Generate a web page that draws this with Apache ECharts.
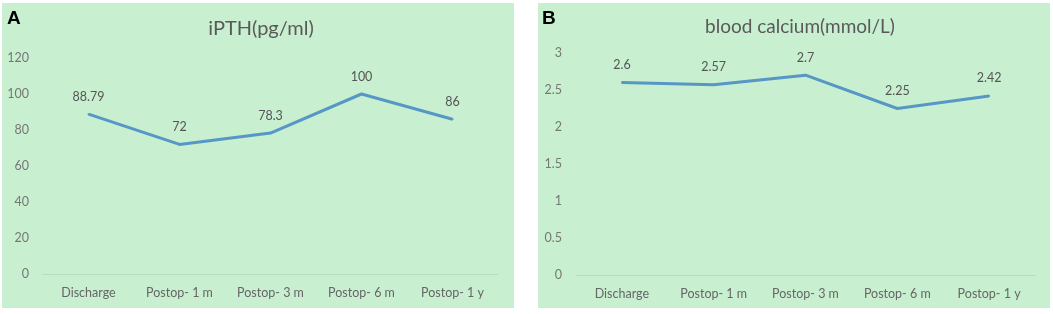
<!DOCTYPE html>
<html>
<head>
<meta charset="utf-8">
<script src="https://cdn.jsdelivr.net/npm/echarts@6/dist/echarts.min.js"></script>
<style>
  html, body { margin: 0; padding: 0; background: #fff; }
  #chart { width: 1053px; height: 314px; }
</style>
</head>
<body>
<div id="chart"></div>
<script>
const categories = ['Discharge', 'Postop- 1 m', 'Postop- 3 m', 'Postop- 6 m', 'Postop- 1 y'];
const pthValues = [88.79, 72, 78.3, 100, 86];
const calciumValues = [2.6, 2.57, 2.7, 2.25, 2.42];
const panelTitles = ['iPTH(pg/ml)', 'blood calcium(mmol/L)'];
const panelLetters = ['A', 'B'];

const chart = echarts.init(document.getElementById('chart'));
const font = 'Lato, "Open Sans", sans-serif';
const panelColor = '#c8efcf';
const lineColor = '#5797c6';

function xAxisFor(gridIndex) {
  return {
    type: 'category',
    gridIndex: gridIndex,
    data: categories,
    boundaryGap: true,
    axisTick: { show: false },
    axisLine: { lineStyle: { color: '#b9dcc0', width: 1 } },
    axisLabel: { color: '#666', fontSize: 12.5, fontFamily: font, margin: 12 }
  };
}

function yAxisFor(gridIndex, max, interval) {
  return {
    type: 'value',
    gridIndex: gridIndex,
    min: 0,
    max: max,
    interval: interval,
    axisLine: { show: false },
    axisTick: { show: false },
    splitLine: { show: false },
    axisLabel: { color: '#777', fontSize: 12.5, fontFamily: font, margin: 14 }
  };
}

function lineSeries(index, data) {
  return {
    type: 'line',
    xAxisIndex: index,
    yAxisIndex: index,
    data: data,
    symbol: 'circle',
    symbolSize: 2,
    showSymbol: true,
    itemStyle: { color: lineColor },
    lineStyle: { color: lineColor, width: 3 },
    label: {
      show: true,
      position: 'top',
      distance: 10,
      color: '#555',
      fontSize: 12.5,
      fontFamily: font
    }
  };
}

chart.setOption({
  backgroundColor: '#fff',
  animation: false,
  graphic: [
    { type: 'rect', left: 2, top: 3, shape: { width: 512, height: 305 }, style: { fill: panelColor }, z: -10 },
    { type: 'rect', left: 538, top: 3, shape: { width: 512, height: 305 }, style: { fill: panelColor }, z: -10 },
    { type: 'text', left: 7, top: 9, style: { text: panelLetters[0], font: 'bold 19px "Liberation Sans", Arial, sans-serif', fill: '#000' } },
    { type: 'text', left: 542, top: 9, style: { text: panelLetters[1], font: 'bold 19px "Liberation Sans", Arial, sans-serif', fill: '#000' } }
  ],
  title: [
    { text: panelTitles[0], left: 256, top: 14, textAlign: 'center',
      textStyle: { color: '#595959', fontSize: 20, fontWeight: 'normal', fontFamily: font } },
    { text: panelTitles[1], left: 795, top: 12, textAlign: 'center',
      textStyle: { color: '#595959', fontSize: 19, fontWeight: 'normal', fontFamily: font } }
  ],
  grid: [
    { left: 43, top: 58, width: 455, height: 216 },
    { left: 576, top: 53, width: 459, height: 222 }
  ],
  xAxis: [xAxisFor(0), xAxisFor(1)],
  yAxis: [yAxisFor(0, 120, 20), yAxisFor(1, 3, 0.5)],
  series: [lineSeries(0, pthValues), lineSeries(1, calciumValues)]
});

window.addEventListener('resize', () => chart.resize());
</script>
</body>
</html>
